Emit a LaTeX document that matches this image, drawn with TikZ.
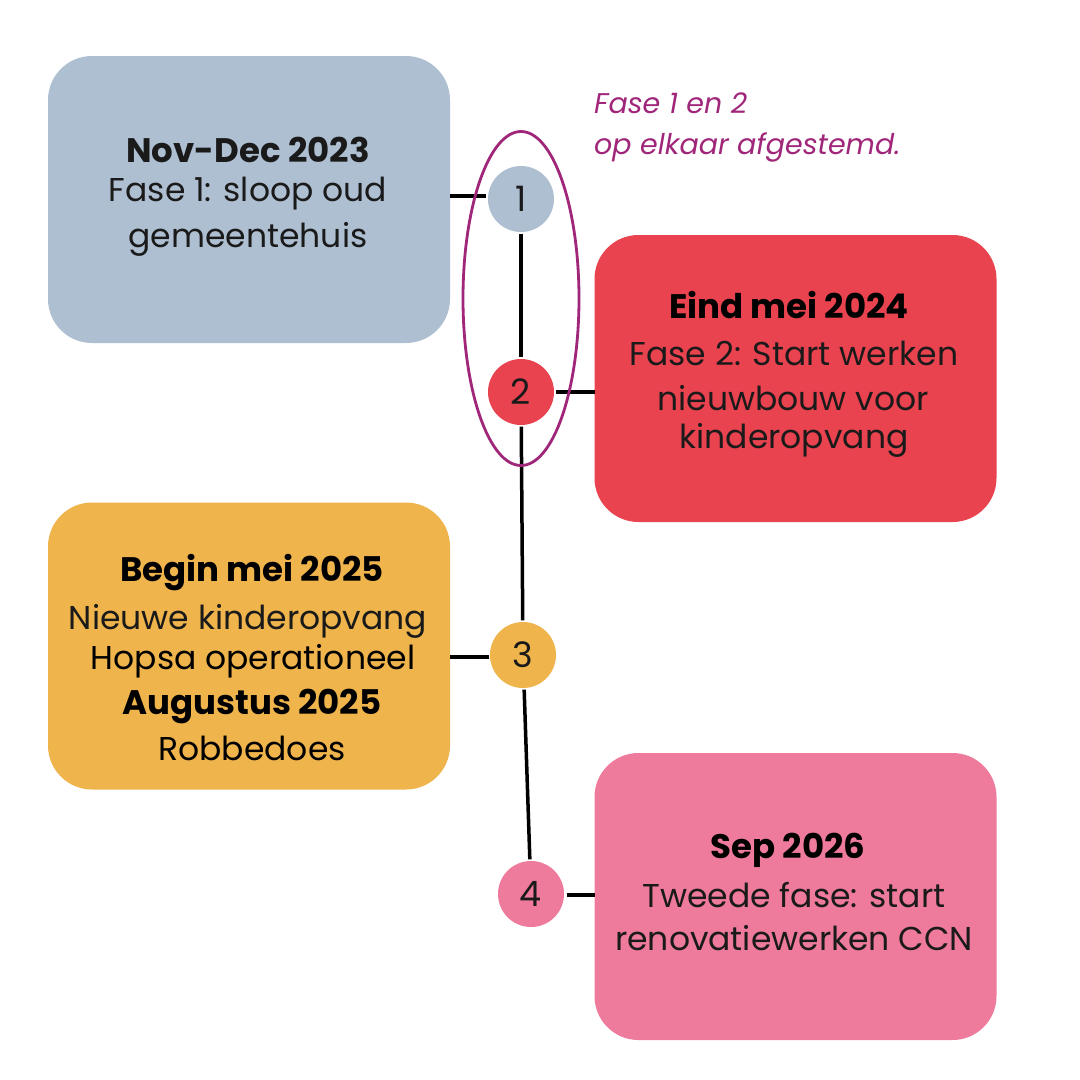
\documentclass[tikz,border=0pt]{standalone}
\usepackage{fontspec}
\setmainfont{Poppins}
\usetikzlibrary{shapes.geometric}
\definecolor{cblue}{HTML}{AEBFD1}
\definecolor{cred}{HTML}{E8434F}
\definecolor{cyel}{HTML}{EFB44B}
\definecolor{cpink}{HTML}{EE7A9C}
\definecolor{cpurp}{HTML}{A0267A}
\definecolor{ctext}{HTML}{1A1A1A}
\begin{document}
\begin{tikzpicture}[x=1pt,y=-1pt,
  phasebox/.style={rounded corners=44pt, inner sep=0pt, outer sep=0pt, minimum width=402pt, minimum height=287pt},
  reg/.style={font=\fontsize{33}{45}\selectfont, text=ctext, inner sep=0pt},
  bld/.style={font=\fontsize{34}{45}\selectfont\bfseries, text=black, inner sep=0pt},
  dot/.style={circle, inner sep=0pt, minimum size=66pt, font=\fontsize{35}{36}\selectfont, text=ctext},
  link/.style={line width=3.5pt, black}]
\useasboundingbox (0,0) rectangle (1080,1080);
\fill[white] (0,0) rectangle (1080,1080);

% boxes
\node[phasebox, fill=cblue] (b1) at (249,199.5) {};
\node[phasebox, fill=cred] (b2) at (795.5,378.5) {};
\node[phasebox, fill=cyel] (b3) at (249,646) {};
\node[phasebox, fill=cpink] (b4) at (795.5,896.5) {};

% box texts
\node[bld, text=ctext] (t1a) at (248,150) {Nov-Dec 2023};
\node[reg] (t1b) at (248,194) {Fase 1: sloop oud};
\node[reg] (t1c) at (248,239) {gemeentehuis};

\node[bld] (t2a) at (789,305) {Eind mei 2024};
\node[reg] (t2b) at (794,353) {Fase 2: Start werken};
\node[reg] (t2c) at (793,398) {nieuwbouw voor};
\node[reg] (t2d) at (794,440) {kinderopvang};

\node[bld] (t3a) at (252,573) {Begin mei 2025};
\node[reg] (t3b) at (248,621) {Nieuwe kinderopvang};
\node[reg, text=black] (t3c) at (253,661) {Hopsa operationeel};
\node[bld] (t3d) at (252,706) {Augustus 2025};
\node[reg, text=black] (t3e) at (252,748) {Robbedoes};

\node[bld] (t4a) at (788,850) {Sep 2026};
\node[reg] (t4b) at (794,895) {Tweede fase: start};
\node[reg] (t4c) at (794,938) {renovatiewerken CCN};

% circles
\node[dot, fill=cblue] (c1) at (521,199) {1};
\node[dot, fill=cred] (c2) at (521,392) {2};
\node[dot, fill=cyel] (c3) at (523,655) {3};
\node[dot, fill=cpink] (c4) at (531,894) {4};

% connectors
\coordinate (h1) at (450,196);
\coordinate (h1e) at (486,196);
\draw[link] (h1) -- (h1e);
\coordinate (h2s) at (556,392);
\draw[link] (h2s) -- (b2.west |- h2s);
\coordinate (h3) at (450,657);
\coordinate (h3e) at (489,657);
\draw[link] (h3) -- (h3e);
\coordinate (h4s) at (567,895);
\draw[link] (h4s) -- (b4.west |- h4s);
\draw[link, shorten <=1.5pt, shorten >=1.5pt] (c1) -- (c2);
\draw[link, shorten <=1.5pt, shorten >=1.5pt] (c2) -- (c3);
\draw[link, shorten <=1.5pt, shorten >=1.5pt] (c3) -- (c4);

% ellipse
\node[ellipse, draw=cpurp, line width=2.8pt, minimum width=116pt, minimum height=334pt, inner sep=0pt] (ell) at (521,298.5) {};

% annotation
\node[anchor=west, text=cpurp, align=left, font=\fontsize{28.5}{41}\selectfont\itshape, inner sep=0pt] (note) at (594,127) {Fase 1 en 2\\op elkaar afgestemd.};
\end{tikzpicture}
\end{document}
